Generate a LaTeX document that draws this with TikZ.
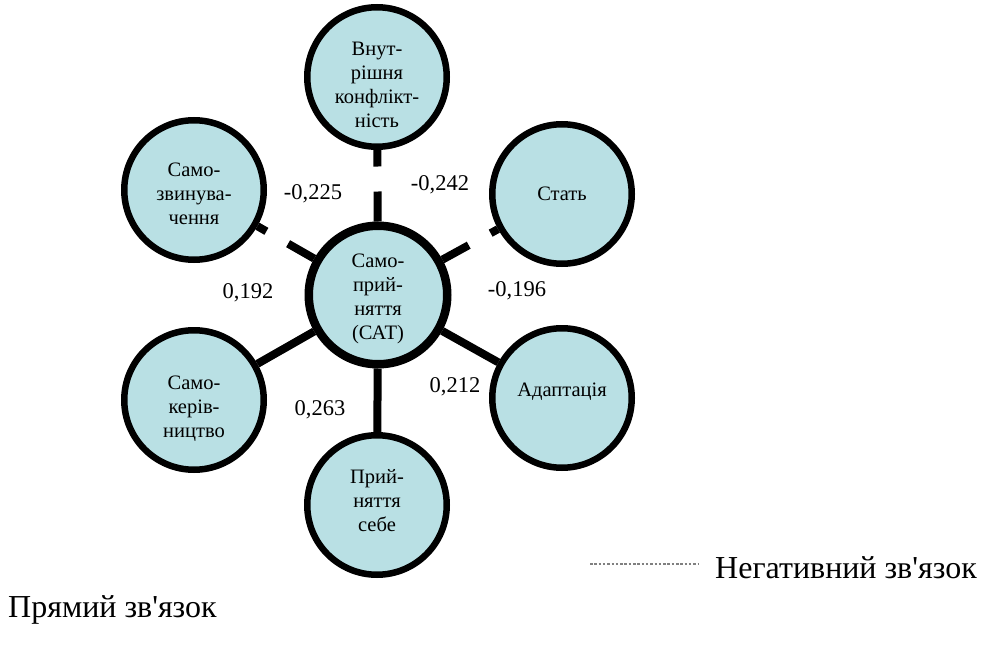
\documentclass[tikz,border=0pt]{standalone}
\usepackage{fontspec}
\setmainfont{Liberation Serif}[Ligatures=TeXOff]
\definecolor{tealfill}{RGB}{185,224,228}
\begin{document}
\begin{tikzpicture}[x=1pt,y=-1pt,
  factor/.style={circle, draw=black, line width=6.5pt, fill=tealfill,
    minimum size=139.5pt, inner sep=0pt},
  core/.style={factor, line width=8.5pt, minimum size=138.5pt},
  ftext/.style={align=center, inner sep=0pt, font=\fontsize{20.5}{24}\selectfont},
  caption/.style 2 args={label={[ftext, yshift=#1]center:{#2}}},
  link/.style={line width=8pt},
  neglink/.style={link, dash pattern=on 30pt off 25pt},
  coef/.style={font=\fontsize{22.5}{26}\selectfont, inner sep=0pt},
  legendtext/.style={font=\fontsize{32}{36}\selectfont, inner sep=0pt, anchor=base west}]
\useasboundingbox (0,0) rectangle (983,658);

% factor circles, each caption nudged vertically inside its circle
\node[core,   caption={-4pt}{Само-\\прий-\\няття\\(САТ)}]       (cat)   at (378,295) {};
\node[factor, caption={-8pt}{Внут-\\рішня\\конфлікт-\\ність}]  (conf)  at (377,77)  {};
\node[factor, caption={-4pt}{Само-\\звинува-\\чення}]          (blame) at (194,190) {};
\node[factor, caption={0pt}{Стать}]                            (sex)   at (562,194) {};
\node[factor, caption={-9pt}{Само-\\керів-\\ництво}]           (lead)  at (194,400) {};
\node[factor, caption={6pt}{Адаптація}]                        (adapt) at (562,398) {};
\node[factor, caption={4pt}{Прий-\\няття\\себе}]               (self)  at (377,505) {};

% links from the core factor
\draw[neglink] (cat) -- (conf);
\draw[neglink] (cat) -- (blame);
\draw[neglink] (cat) -- (sex);
\draw[link] (cat) -- (lead);
\draw[link] (cat) -- (adapt);
\draw[link] (cat) -- (self);

% correlation coefficients
\node[coef] (k1) at (313,194) {-0,225};
\node[coef] (k2) at (440,185) {-0,242};
\node[coef] (k3) at (517,291) {-0,196};
\node[coef] (k4) at (248,293) {0,192};
\node[coef] (k5) at (455,387) {0,212};
\node[coef] (k6) at (320,410) {0,263};

% legend
\coordinate (dl) at (590,564);
\coordinate (dr) at (698,564);
\draw[gray, line width=1.2pt, dash pattern=on 2.5pt off 1.8pt] (dl) -- (dr);
\node[legendtext] (neg) at (715,578) {Негативний зв'язок};
\node[legendtext] (pos) at (8,617) {Прямий зв'язок};
\end{tikzpicture}
\end{document}
